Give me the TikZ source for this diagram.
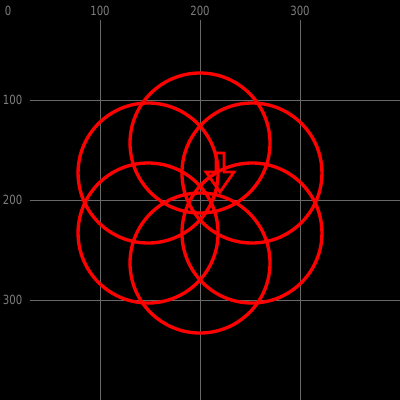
\documentclass[tikz,border=0pt]{standalone}
\usepackage{graphicx}
\usepackage{fontspec}
\setmainfont{DejaVu Sans}
\definecolor{gridgray}{RGB}{105,105,105}
\definecolor{labelgray}{RGB}{125,125,125}
\newcommand{\axtext}[1]{\scalebox{0.8}[1]{#1}}
\begin{document}
\begin{tikzpicture}[x=0.01cm,y=-0.01cm,
  gridline/.style={draw=gridgray,line width=0.28pt},
  axlabel/.style={text=labelgray,font=\fontsize{3.6pt}{4pt}\selectfont,inner sep=0pt},
  petal/.style={draw=red,line width=0.95pt},
  blockarrow/.style={draw=red,line width=0.8pt,line join=miter}]
\fill[black] (0,0) rectangle (400,400);
\useasboundingbox (0,0) rectangle (400,400);
\foreach \v in {100,200,300}{
  \draw[gridline] (\v,20) -- (\v,400);
  \draw[gridline] (30,\v) -- (400,\v);
  \node[axlabel] (tx\v) at (100+\v-100,11) {\axtext{\v}};
  \node[axlabel,anchor=east] (ty\v) at (23,\v) {\axtext{\v}};
}
\node[axlabel] (t0) at (8,11) {\axtext{0}};
\coordinate (c) at (200,203);
\foreach \a [count=\i] in {90,30,-30,-90,-150,150}{
  \draw[petal] (c) ++(\a:60) coordinate (p\i) circle[radius=70];
}
\draw[blockarrow] (216,153) -- (224,153) -- (224,172) -- (234,172) -- (220,192)
  -- (206,172) -- (216,172) -- cycle;
\end{tikzpicture}
\end{document}
